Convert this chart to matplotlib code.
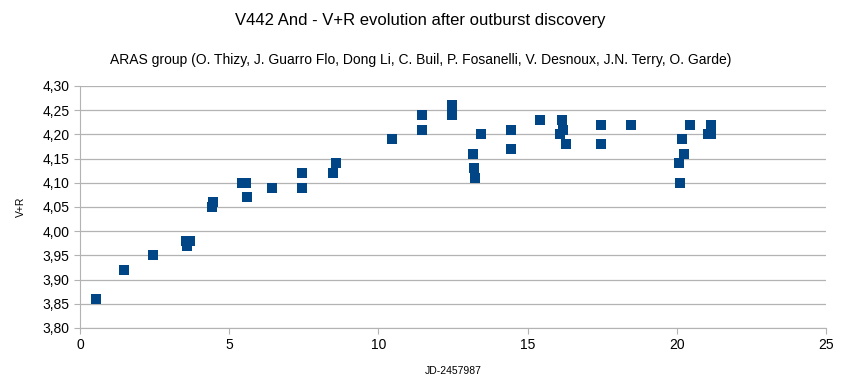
import numpy as np
import matplotlib
matplotlib.use("Agg")
import matplotlib.pyplot as plt
from matplotlib.ticker import FuncFormatter, MultipleLocator

# days since JD 2457987, V+R magnitude
jd = [0.54, 1.47, 2.45, 3.55, 3.69, 3.60, 4.42, 4.46, 5.43, 5.56, 5.60,
      6.43, 7.44, 7.44, 8.48, 8.58, 10.46, 11.46, 11.46, 12.47, 12.47, 12.47,
      13.17, 13.20, 13.23, 13.44, 14.44, 14.44, 15.42, 16.15, 16.20, 16.10,
      16.28, 17.45, 17.46, 18.45, 20.44, 20.17, 20.24, 20.07, 20.10, 21.13,
      21.13, 21.05]
vr = [3.86, 3.92, 3.95, 3.98, 3.98, 3.97, 4.05, 4.06, 4.10, 4.10, 4.07,
      4.09, 4.09, 4.12, 4.12, 4.14, 4.19, 4.21, 4.24, 4.26, 4.25, 4.24,
      4.16, 4.13, 4.11, 4.20, 4.21, 4.17, 4.23, 4.23, 4.21, 4.20,
      4.18, 4.22, 4.18, 4.22, 4.22, 4.19, 4.16, 4.14, 4.10, 4.22,
      4.20, 4.20]

plt.rcParams["font.family"] = ["Liberation Sans", "DejaVu Sans"]

fig = plt.figure(figsize=(8.41, 3.86), dpi=100)
ax = fig.add_axes([80 / 841, 1 - 328 / 386, 746 / 841, 242 / 386])

ax.scatter(jd, vr, marker="s", s=62, color="#004586", zorder=3, linewidths=0)

ax.set_xlim(0, 25)
ax.set_ylim(3.80, 4.30)
ax.xaxis.set_major_locator(MultipleLocator(5))
ax.yaxis.set_major_locator(MultipleLocator(0.05))
ax.yaxis.set_major_formatter(FuncFormatter(lambda v, p: f"{v:.2f}".replace(".", ",")))
ax.grid(axis="y", color="#b3b3b3", linewidth=0.9)
ax.set_axisbelow(True)
for side in ["top", "right"]:
    ax.spines[side].set_visible(False)
for side in ["left", "bottom"]:
    ax.spines[side].set_color("#b3b3b3")
ax.tick_params(colors="#b3b3b3", labelcolor="black", labelsize=10, length=4)

ax.set_xlabel("JD-2457987", fontsize=7.5, labelpad=10)
ax.set_ylabel("V+R", fontsize=7.5, labelpad=12)

fig.text(0.5, 1 - 20 / 386, "V442 And - V+R evolution after outburst discovery",
         ha="center", va="center", fontsize=12)
fig.text(0.5, 1 - 60 / 386,
         "ARAS group (O. Thizy, J. Guarro Flo, Dong Li, C. Buil, P. Fosanelli, V. Desnoux, J.N. Terry, O. Garde)",
         ha="center", va="center", fontsize=10)

fig.savefig("out.png", dpi=100)
